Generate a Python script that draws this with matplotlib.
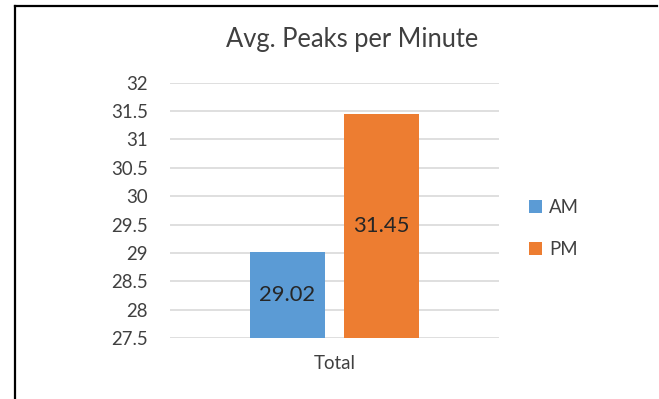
import matplotlib
matplotlib.use("Agg")
import matplotlib.pyplot as plt
from matplotlib.lines import Line2D
from matplotlib.patches import Patch

plt.rcParams['font.family'] = ['Lato', 'DejaVu Sans']

# Data
categories = ["Total"]
series_names = ["AM", "PM"]
series_values = [29.02, 31.45]
series_colors = ["#5B9BD5", "#ED7D31"]
y_ticks = [27.5, 28, 28.5, 29, 29.5, 30, 30.5, 31, 31.5, 32]
title = "Avg. Peaks per Minute"

W, H = 659, 399
fig = plt.figure(figsize=(W / 100, H / 100), dpi=100)
fig.patch.set_facecolor("white")

ax = fig.add_axes([170 / W, 1 - 338.3 / H, (499 - 170) / W, (338.3 - 82.7) / H])
ymin, ymax = y_ticks[0], y_ticks[-1]
ax.set_ylim(ymin, ymax)
ax.set_xlim(-0.5, 0.5)

text_color = "#404040"
bar_width = 0.228
offsets = [-0.1429, 0.1429]
for name, val, col, off in zip(series_names, series_values, series_colors, offsets):
    ax.bar(0 + off, val, width=bar_width, color=col, zorder=3, label=name)
    ax.text(0 + off, (ymin + val) / 2, f"{val:.2f}", ha="center", va="center",
            fontsize=15.8, color="#262626", zorder=4)

ax.set_yticks(y_ticks)
ax.set_yticklabels([f"{t:g}" for t in y_ticks])
ax.set_xticks([0])
ax.set_xticklabels(categories)
ax.tick_params(axis="both", length=0, labelsize=13.4, colors=text_color)
ax.tick_params(axis="y", pad=16)
ax.tick_params(axis="x", pad=12)
ax.yaxis.grid(True, color="#d9d9d9", linewidth=1.2, zorder=0)
ax.set_axisbelow(True)
for s in ax.spines.values():
    s.set_visible(False)

fig.text(352 / W, 1 - 47 / H, title, ha="center", va="baseline",
         fontsize=18.4, color=text_color)

handles = [Patch(facecolor=c, edgecolor="none") for c in series_colors]
fig.legend(handles, series_names, loc="upper left",
           bbox_to_anchor=(512 / W, 1 - 182 / H), frameon=False,
           fontsize=13.4, handlelength=0.7, handleheight=0.7,
           handletextpad=0.4, labelspacing=1.35, labelcolor=text_color)

# Outer frame of the chart area
fig.add_artist(Line2D([14.5 / W, 14.5 / W], [0, 1 - 5.5 / H], color="black",
                      linewidth=1.6, transform=fig.transFigure))
fig.add_artist(Line2D([14.5 / W, 657 / W], [1 - 5.5 / H, 1 - 5.5 / H], color="black",
                      linewidth=1.6, transform=fig.transFigure))

fig.savefig("out.png", dpi=100)
